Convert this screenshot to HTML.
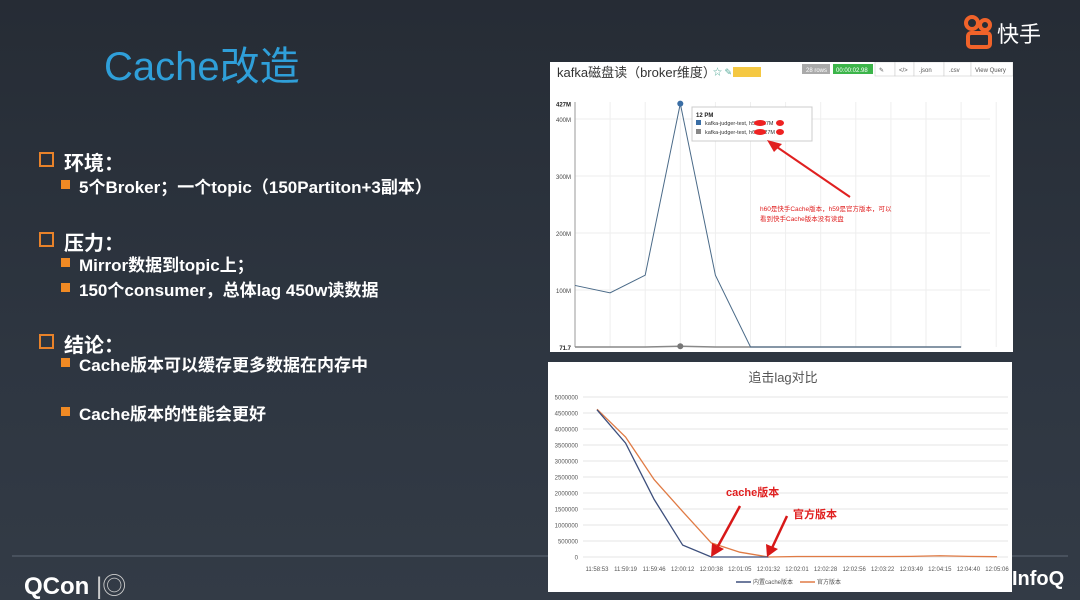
<!DOCTYPE html>
<html><head><meta charset="utf-8">
<style>
body{margin:0;}
#slide{position:relative;width:1080px;height:600px;overflow:hidden;background:linear-gradient(180deg,#262c35 0%,#2e3641 60%,#333b46 100%);font-family:"Liberation Sans","Noto Sans CJK SC",sans-serif;}
.t{position:absolute;color:#fff;font-weight:bold;white-space:nowrap;}
.h{font-size:20px;}
.s{font-size:17px;}
.hb{position:absolute;width:11px;height:11px;border:2px solid #e8822a;}
.sb{position:absolute;width:9px;height:9px;background:#f08a24;}
svg text{font-family:"Liberation Sans","Noto Sans CJK SC",sans-serif;}
</style></head><body>
<div id="slide">
<div class="t" style="left:104px;top:34px;font-size:40px;font-weight:normal;color:#2f9fd9;">Cache改造</div>

<div style="position:absolute;left:963px;top:14px;">
<svg width="100" height="36"><circle cx="9" cy="9" r="6" fill="none" stroke="#f0632a" stroke-width="4"/><circle cx="22" cy="11" r="5" fill="none" stroke="#f0632a" stroke-width="4"/><rect x="5" y="19" width="22" height="14" rx="3" fill="none" stroke="#f0632a" stroke-width="4"/><text x="34" y="28" font-size="22" fill="#fff">快手</text></svg></div>

<div class="hb" style="left:39px;top:152px"></div>
<div class="t h" style="left:64px;top:147px">环境：</div>
<div class="sb" style="left:61px;top:180px"></div>
<div class="t s" style="left:79px;top:173px">5个Broker；一个topic（150Partiton+3副本）</div>

<div class="hb" style="left:39px;top:232px"></div>
<div class="t h" style="left:64px;top:227px">压力：</div>
<div class="sb" style="left:61px;top:258px"></div>
<div class="t s" style="left:79px;top:251px">Mirror数据到topic上；</div>
<div class="sb" style="left:61px;top:283px"></div>
<div class="t s" style="left:79px;top:276px">150个consumer，总体lag 450w读数据</div>

<div class="hb" style="left:39px;top:334px"></div>
<div class="t h" style="left:64px;top:329px">结论：</div>
<div class="sb" style="left:61px;top:358px"></div>
<div class="t s" style="left:79px;top:351px">Cache版本可以缓存更多数据在内存中</div>
<div class="sb" style="left:61px;top:407px"></div>
<div class="t s" style="left:79px;top:400px">Cache版本的性能会更好</div>

<div style="position:absolute;left:12px;top:555px;width:1056px;height:2px;background:#48515d"></div>
<div class="t" style="left:24px;top:566px;font-size:24px;">QCon <span style="font-weight:normal;color:#ccc">|◎</span></div>
<div class="t" style="left:1012px;top:568px;font-size:20px;">InfoQ</div>

<svg id="top" style="position:absolute;left:550px;top:62px" width="463" height="290"></svg>
<svg id="bot" style="position:absolute;left:548px;top:362px" width="464" height="230"></svg>
</div>
<script>
const topCats=['11:58','11:59','12:00','12:01','12:02','12:03','12:04','12:05','12:06','12:07','12:08','12:09'];
const topH59=[108,95,126,427,126,0,0,0,0,0,0,0];
const topH60=[0,0,0,1.27,0,0,0,0,0,0,0,0];
const topTicks=[100,200,300,400];

const botCats=['11:58:53','11:59:19','11:59:46','12:00:12','12:00:38','12:01:05','12:01:32','12:02:01','12:02:28','12:02:56','12:03:22','12:03:49','12:04:15','12:04:40','12:05:06'];
const botCache=[4600000,3560000,1800000,370000,0,0,0,0,0,0,0,0,0,0,0];
const botOfficial=[4620000,3750000,2420000,1420000,440000,150000,0,15000,15000,15000,15000,20000,40000,20000,10000];
const botTicks=[0,500000,1000000,1500000,2000000,2500000,3000000,3500000,4000000,4500000,5000000];

const NS='http://www.w3.org/2000/svg';
function mk(p,tag,a,txt){const e=document.createElementNS(NS,tag);for(const k in a)e.setAttribute(k,a[k]);if(txt!==undefined)e.textContent=txt;p.appendChild(e);return e;}

(function(){
const s=document.getElementById('top');
mk(s,'rect',{x:0,y:0,width:463,height:290,fill:'#fff'});
let t=mk(s,'text',{x:7,y:15,'font-size':13,fill:'#333'},'kafka磁盘读（broker维度）');


mk(s,'text',{x:163,y:13,'font-size':9,fill:'#5a9'},'☆ ✎');
mk(s,'rect',{x:183,y:5,width:28,height:10,fill:'#f5c842'});
mk(s,'rect',{x:252,y:2,width:28,height:10,fill:'#aaa'});
mk(s,'text',{x:256,y:10,'font-size':6,fill:'#fff'},'28 rows');
mk(s,'rect',{x:283,y:2,width:40,height:10,fill:'#3cb54a'});
mk(s,'text',{x:286,y:10,'font-size':6,fill:'#fff'},'00:00:02.98');
const bl=[[326,'✎'],[346,'</>'],[366,'.json'],[396,'.csv'],[422,'View Query']];
const bx=[325,345,364,394,421,463];
for(let i=0;i<5;i++){
 const b=mk(s,'rect',{x:bx[i],y:0,width:bx[i+1]-bx[i],height:14,fill:'#fff',stroke:'#ccc','stroke-width':0.6});
 
 
 mk(s,'text',{x:bl[i][0]+3,y:10,'font-size':6,fill:'#555'},bl[i][1]);
}
const x0=25,dx=35.1,y0=285,py=0.57;
const X=i=>x0+i*dx, Y=v=>y0-v*py;
for(let i=0;i<=topCats.length;i++)mk(s,'line',{x1:X(i),x2:X(i),y1:40,y2:y0,stroke:'#eee'});
for(const v of topTicks){mk(s,'line',{x1:x0,x2:440,y1:Y(v),y2:Y(v),stroke:'#eee'});mk(s,'text',{x:21,y:Y(v)+3,'font-size':6,fill:'#444','text-anchor':'end'},v+'M');}
mk(s,'text',{x:21,y:Y(427)+3,'font-size':6,'font-weight':'bold',fill:'#222','text-anchor':'end'},'427M');
mk(s,'text',{x:21,y:y0+3,'font-size':6,'font-weight':'bold',fill:'#222','text-anchor':'end'},'71.7');
mk(s,'line',{x1:x0,x2:x0,y1:40,y2:y0,stroke:'#999'});
let p=mk(s,'polyline',{points:topH60.map((v,i)=>X(i)+','+Y(v)).join(' '),fill:'none',stroke:'#888','stroke-width':1.5});


p=mk(s,'polyline',{points:topH59.map((v,i)=>X(i)+','+Y(v)).join(' '),fill:'none',stroke:'#4a6a88','stroke-width':1});


mk(s,'circle',{cx:X(3),cy:Y(topH59[3]),r:3,fill:'#3a6ea5'});
mk(s,'circle',{cx:X(3),cy:Y(topH60[3]),r:3,fill:'#777'});
const tp=mk(s,'g',{});


mk(tp,'rect',{x:142,y:45,width:120,height:34,fill:'#fff',stroke:'#ccc'});
mk(tp,'text',{x:146,y:55,'font-size':6,'font-weight':'bold',fill:'#222'},'12 PM');
mk(tp,'rect',{x:146,y:58,width:5,height:5,fill:'#3a6ea5'});
mk(tp,'text',{x:155,y:63,'font-size':5.5,fill:'#333'},'kafka-judger-test,    h59    427M');
mk(tp,'rect',{x:146,y:67,width:5,height:5,fill:'#888'});
mk(tp,'text',{x:155,y:72,'font-size':5.5,fill:'#333'},'kafka-judger-test,    h60    1.27M');
mk(tp,'ellipse',{cx:210,cy:61,rx:6,ry:3,fill:'#e22'});mk(tp,'ellipse',{cx:230,cy:61,rx:4,ry:3,fill:'#e22'});
mk(tp,'ellipse',{cx:210,cy:70,rx:6,ry:3,fill:'#e22'});mk(tp,'ellipse',{cx:230,cy:70,rx:4,ry:3,fill:'#e22'});
const ar=mk(s,'g',{});


mk(ar,'line',{x1:300,y1:135,x2:224,y2:83,stroke:'#e02020','stroke-width':2});
mk(ar,'polygon',{points:'217,78 232,82 224,90',fill:'#e02020'});
mk(s,'text',{x:210,y:149,'font-size':6.5,fill:'#e02020'},'h60是快手Cache版本，h59是官方版本，可以');
mk(s,'text',{x:210,y:159,'font-size':6.5,fill:'#e02020'},'看到快手Cache版本没有读盘');
})();

(function(){
const s=document.getElementById('bot');
mk(s,'rect',{x:0,y:0,width:464,height:230,fill:'#fff'});
let t=mk(s,'text',{x:235,y:20,'font-size':13,fill:'#555','text-anchor':'middle'},'追击lag对比');


const x0=49,dx=28.57,y0=195,py=32/1000000;
const X=i=>x0+i*dx, Y=v=>y0-v*py;
for(const v of botTicks){mk(s,'line',{x1:35,x2:460,y1:Y(v),y2:Y(v),stroke:'#e4e4e4'});mk(s,'text',{x:30,y:Y(v)+2.5,'font-size':6,fill:'#555','text-anchor':'end'},v);}
botCats.forEach((c,i)=>mk(s,'text',{x:X(i),y:y0+14,'font-size':6,fill:'#555','text-anchor':'middle'},c));
let p=mk(s,'polyline',{points:botOfficial.map((v,i)=>X(i)+','+Y(v)).join(' '),fill:'none',stroke:'#e07b45','stroke-width':1.3});


p=mk(s,'polyline',{points:botCache.slice(0,7).map((v,i)=>X(i)+','+Y(v)).join(' '),fill:'none',stroke:'#3d4f7c','stroke-width':1.3});


const lg=mk(s,'g',{});


mk(lg,'line',{x1:188,x2:203,y1:220,y2:220,stroke:'#3d4f7c','stroke-width':1.5});
mk(lg,'text',{x:205,y:222,'font-size':6,fill:'#555'},'内置cache版本');
mk(lg,'line',{x1:252,x2:267,y1:220,y2:220,stroke:'#e07b45','stroke-width':1.5});
mk(lg,'text',{x:269,y:222,'font-size':6,fill:'#555'},'官方版本');
const a1=mk(s,'g',{});


mk(a1,'line',{x1:192,y1:144,x2:169,y2:186,stroke:'#d81818','stroke-width':2.5});
mk(a1,'polygon',{points:'163,195 164,181 176,187',fill:'#d81818'});
mk(s,'text',{x:178,y:134,'font-size':11,'font-weight':'bold',fill:'#e02020'},'cache版本');
const a2=mk(s,'g',{});


mk(a2,'line',{x1:239,y1:154,x2:224,y2:186,stroke:'#d81818','stroke-width':2.5});
mk(a2,'polygon',{points:'219,195 218,182 230,187',fill:'#d81818'});
mk(s,'text',{x:245,y:156,'font-size':11,'font-weight':'bold',fill:'#e02020'},'官方版本');
})();
</script>
</body></html>
